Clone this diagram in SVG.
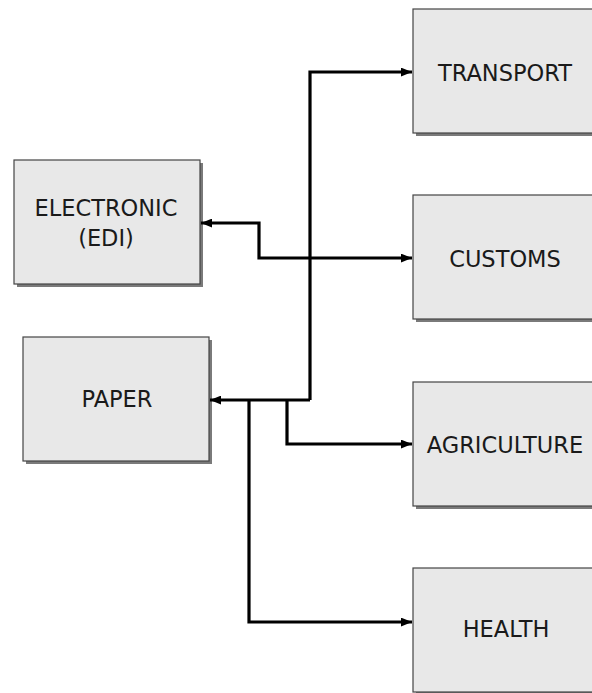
<svg xmlns="http://www.w3.org/2000/svg" width="592" height="693" viewBox="0 0 592 693">
<style>
.box{fill:#e8e8e8;stroke:#444;stroke-width:1.2}
.sh{fill:#7a7a7a}
.lbl{font-family:"DejaVu Sans",Verdana,sans-serif;font-size:22.5px;fill:#1a1a1a;text-anchor:middle}
.c{fill:none;stroke:#000;stroke-width:3.2}
</style>
<defs>
<marker id="ah" viewBox="0 0 10 8" refX="10" refY="4" markerWidth="11" markerHeight="9" markerUnits="userSpaceOnUse" orient="auto-start-reverse">
<path d="M0,0 L10,4 L0,8 Z" fill="#000"/>
</marker>
</defs>
<rect width="592" height="693" fill="#fff"/>
<g id="electronic">
<rect class="sh" x="17" y="163" width="186" height="124"/>
<rect class="box" x="14" y="160" width="186" height="124"/>
<text class="lbl" x="106" y="216">ELECTRONIC</text>
<text class="lbl" x="106" y="246">(EDI)</text>
</g>
<g id="paper">
<rect class="sh" x="26" y="340" width="186" height="124"/>
<rect class="box" x="23" y="337" width="186" height="124"/>
<text class="lbl" x="117" y="407">PAPER</text>
</g>
<g id="transport">
<rect class="sh" x="416" y="12" width="186" height="124"/>
<rect class="box" x="413" y="9" width="186" height="124"/>
<text class="lbl" x="505" y="81">TRANSPORT</text>
</g>
<g id="customs">
<rect class="sh" x="416" y="198" width="186" height="124"/>
<rect class="box" x="413" y="195" width="186" height="124"/>
<text class="lbl" x="505" y="267">CUSTOMS</text>
</g>
<g id="agriculture">
<rect class="sh" x="416" y="385" width="186" height="124"/>
<rect class="box" x="413" y="382" width="186" height="124"/>
<text class="lbl" x="505" y="453">AGRICULTURE</text>
</g>
<g id="health">
<rect class="sh" x="416" y="571" width="186" height="124"/>
<rect class="box" x="413" y="568" width="186" height="124"/>
<text class="lbl" x="506" y="637">HEALTH</text>
</g>
<g id="connectors">
<path class="c" d="M201,223 H259 V258 H412" marker-start="url(#ah)" marker-end="url(#ah)"/>
<path class="c" d="M310,400 H210" marker-end="url(#ah)"/>
<path class="c" d="M310,400 V72 H412" marker-end="url(#ah)"/>
<path class="c" d="M287,400 V444 H412" marker-end="url(#ah)"/>
<path class="c" d="M249,400 V622 H412" marker-end="url(#ah)"/>
</g>
</svg>
